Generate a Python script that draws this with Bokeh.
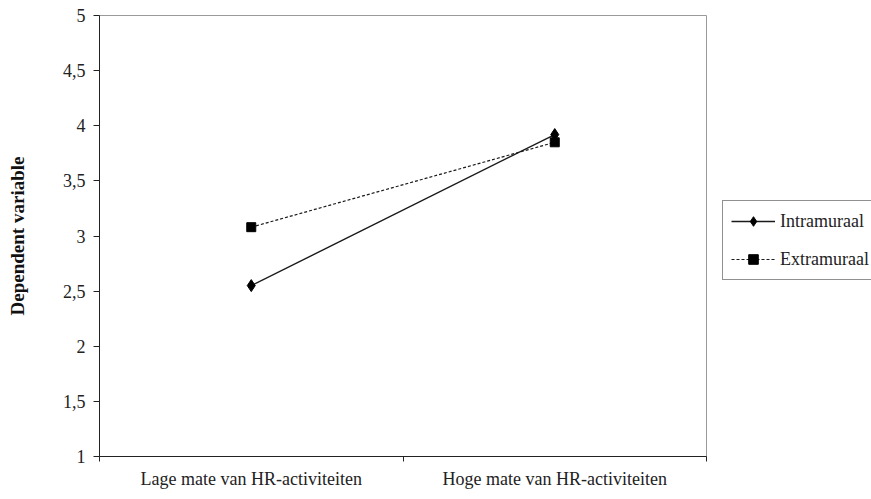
from bokeh.plotting import figure
from bokeh.layouts import row
from bokeh.models import FixedTicker, Range1d, Legend, LegendItem, ColumnDataSource
from bokeh.embed import file_html
from bokeh.resources import INLINE

categories = ["Lage mate van HR-activiteiten", "Hoge mate van HR-activiteiten"]
series_names = ["Intramuraal", "Extramuraal"]
intramuraal = [2.55, 3.92]
extramuraal = [3.08, 3.85]
y_ticks = [1, 1.5, 2, 2.5, 3, 3.5, 4, 4.5, 5]
y_tick_labels = ["1", "1,5", "2", "2,5", "3", "3,5", "4", "4,5", "5"]

xs = [i + 0.5 for i in range(len(categories))]
FONT = "Liberation Serif"
H = 491

p = figure(width=707, height=H, output_backend="svg", toolbar_location=None,
           x_range=Range1d(0, len(categories)), y_range=Range1d(1, 5))
p.min_border_left = 99
p.min_border_right = 1
p.min_border_top = 15
p.min_border_bottom = 33
p.background_fill_color = "white"
p.border_fill_color = "white"
p.outline_line_color = "#9a9a9a"
p.outline_line_width = 1
p.grid.visible = False

# y axis
ya = p.yaxis[0]
ya.ticker = FixedTicker(ticks=y_ticks, minor_ticks=[])
ya.major_label_overrides = {t: l for t, l in zip(y_ticks, y_tick_labels)}
ya.axis_line_color = "#222222"
ya.major_tick_line_color = "#222222"
ya.major_tick_in = 0
ya.major_tick_out = 6
ya.major_label_text_font = FONT
ya.major_label_text_font_size = "18px"
ya.major_label_text_color = "#222222"
ya.major_label_standoff = 8
ya.axis_label = "Dependent variable"
ya.axis_label_text_font = FONT
ya.axis_label_text_font_style = "bold"
ya.axis_label_text_font_size = "19px"
ya.axis_label_text_color = "#111111"
ya.axis_label_standoff = 32

# x axis
xa = p.xaxis[0]
xa.ticker = FixedTicker(ticks=xs, minor_ticks=list(range(len(categories) + 1)))
xa.major_label_overrides = {x: c for x, c in zip(xs, categories)}
xa.axis_line_color = "#222222"
xa.major_tick_line_color = None
xa.major_tick_in = 0
xa.major_tick_out = 0
xa.minor_tick_line_color = "#222222"
xa.minor_tick_in = 0
xa.minor_tick_out = 5
xa.major_label_text_font = FONT
xa.major_label_text_font_size = "18px"
xa.major_label_text_color = "#222222"
xa.major_label_standoff = 7

src = ColumnDataSource(dict(x=xs, intra=intramuraal, extra=extramuraal))

style1 = dict(line_color="#1a1a1a", line_width=1.4)
style2 = dict(line_color="#1a1a1a", line_width=1.2, line_dash="3 2")
mk1 = dict(marker="diamond", size=12, fill_color="black", line_color="black")
mk2 = dict(marker="square", size=9, fill_color="black", line_color="black")

p.line("x", "intra", source=src, **style1)
p.scatter("x", "intra", source=src, **mk1)
p.line("x", "extra", source=src, **style2)
p.scatter("x", "extra", source=src, **mk2)

# legend panel (separate figure to the right of the plot area);
# its ranges keep the series out of view so only the legend shows
q = figure(width=164, height=H, output_backend="svg", toolbar_location=None,
           x_axis_type=None, y_axis_type=None,
           x_range=Range1d(0, 1), y_range=Range1d(-1, 0))
q.min_border_left = 0
q.min_border_right = 0
q.min_border_top = 0
q.min_border_bottom = 0
q.outline_line_color = None
q.grid.visible = False
q.background_fill_color = "white"
q.border_fill_color = "white"

r1 = q.line("x", "intra", source=src, **style1)
s1 = q.scatter("x", "intra", source=src, **mk1)
r2 = q.line("x", "extra", source=src, **style2)
s2 = q.scatter("x", "extra", source=src, **mk2)

legend = Legend(items=[LegendItem(label=series_names[0], renderers=[r1, s1]),
                       LegendItem(label=series_names[1], renderers=[r2, s2])],
                location=(15, 176))
legend.border_line_color = "#222222"
legend.border_line_width = 1
legend.background_fill_alpha = 1
legend.label_text_font = FONT
legend.label_text_font_size = "18px"
legend.label_text_color = "#222222"
legend.glyph_width = 44
legend.glyph_height = 24
legend.label_height = 24
legend.label_standoff = 5
legend.spacing = 14
legend.padding = 8
legend.margin = 0
q.add_layout(legend, "center")

layout = row(p, q, spacing=0)
open("out.html", "w").write(file_html(layout, INLINE))
